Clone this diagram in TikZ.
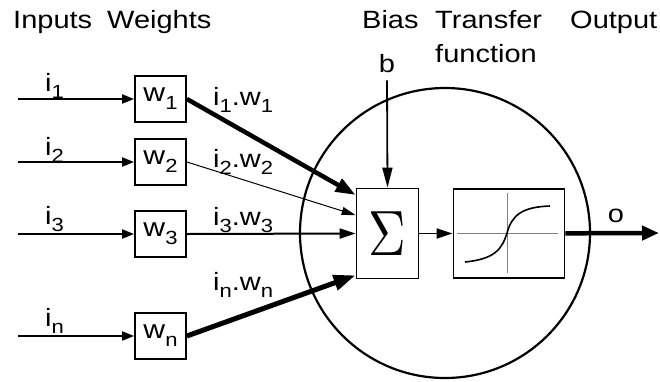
\documentclass[tikz,border=0pt]{standalone}
\usepackage{fontspec}
\setmainfont{Liberation Sans}[FakeStretch=1.16]
\usetikzlibrary{arrows.meta,calc}
\newcommand\lsub[1]{\raisebox{-0.3em}{\fontsize{19}{19}\selectfont #1}}

\begin{document}
\begin{tikzpicture}[
  x=1pt, y=-1pt,
  lbl/.style={anchor=base west, inner sep=0pt, font=\fontsize{25}{28}\selectfont},
  wbox/.style={draw, line width=1.8pt, minimum width=51pt, minimum height=46pt, inner sep=0pt, font=\fontsize{26}{28}\selectfont},
  inarrow/.style={line width=2pt, -{Triangle[length=12pt,width=9pt]}}
]
\useasboundingbox (0,0) rectangle (660,381);

% Headings
\node[lbl] (inputs) at (13,28) {Inputs};
\node[lbl] (weights) at (107,28) {Weights};
\node[lbl] (bias) at (362,28) {Bias};
\node[lbl] (transfer) at (435,28) {Transfer};
\node[lbl] (function) at (435,62) {function};
\node[lbl] (output) at (570,28) {Output};

% Neuron body
\node[draw, circle, line width=2.2pt, minimum size=290pt, inner sep=0pt] (neuron) at (445,233) {};

% Weight boxes
\node[wbox] (w1) at (160.5,99) {w\lsub{1}};
\node[wbox] (w2) at (160.5,162) {w\lsub{2}};
\node[wbox] (w3) at (160.5,234) {w\lsub{3}};
\node[wbox] (wn) at (160.5,336) {w\lsub{n}};

% Inputs
\coordinate (x1) at (18,99);
\coordinate (x2) at (18,162);
\coordinate (x3) at (18,234);
\coordinate (xn) at (18,336);
\draw[inarrow] (x1) -- (w1);
\draw[inarrow] (x2) -- (w2);
\draw[inarrow] (x3) -- (w3);
\draw[inarrow] (xn) -- (wn);
\node[lbl] (i1) at (45,91) {i\lsub{1}};
\node[lbl] (i2) at (45,155) {i\lsub{2}};
\node[lbl] (i3) at (45,224) {i\lsub{3}};
\node[lbl] (in) at (45,326) {i\lsub{n}};

% Summation and transfer function
\node[draw, line width=1.8pt, minimum width=62pt, minimum height=90pt] (sum) at (387.5,233.5) {\scalebox{5.2}[6.4]{$\Sigma$}};
\node[draw, line width=1.8pt, minimum width=111pt, minimum height=89pt] (tf) at (509,233.5) {};
\draw[gray, line width=1pt] (457,233) -- (558,233);
\draw[gray, line width=1pt] (507,193) -- (507,273);
\draw[line width=1.6pt] (465,262) .. controls (495,259) and (502,249) .. (507,233)
  .. controls (512,215) and (522,207) .. (550,206);

% Weighted inputs
\draw[line width=4.5pt, -{Triangle[length=20pt,width=14pt]}] (w1.east) -- ($(sum.north west)!0.08!(sum.south west)$);
\draw[line width=1pt, -{Triangle[length=14pt,width=8pt]}] (w2.east) -- ($(sum.north west)!0.3!(sum.south west)$);
\draw[line width=2pt, -{Triangle[length=16pt,width=10pt]}] (w3.east) -- (sum.west);
\draw[line width=5pt, -{Triangle[length=22pt,width=15pt]}] (wn.east) -- ($(sum.north west)!0.955!(sum.south west)$);
\node[lbl] (p1) at (213,105) {i\lsub{1}.w\lsub{1}};
\node[lbl] (p2) at (213,167) {i\lsub{2}.w\lsub{2}};
\node[lbl] (p3) at (213,225) {i\lsub{3}.w\lsub{3}};
\node[lbl] (pn) at (213,290) {i\lsub{n}.w\lsub{n}};

% Bias
\node[lbl, anchor=base] (b) at (387,72) {b};
\draw[line width=1.8pt, -{Triangle[length=20pt,width=10pt]}] ([yshift=-8pt]b.south) -- (sum.north);

% Output
\draw[line width=1.8pt, -{Triangle[length=16pt,width=10pt]}] (sum) -- (tf);
\coordinate (out) at (659,233);
\draw[line width=4.5pt, -{Triangle[length=17pt,width=14pt]}] (tf) -- (out);
\node[lbl, anchor=base] (o) at (616,222) {o};
\end{tikzpicture}
\end{document}
